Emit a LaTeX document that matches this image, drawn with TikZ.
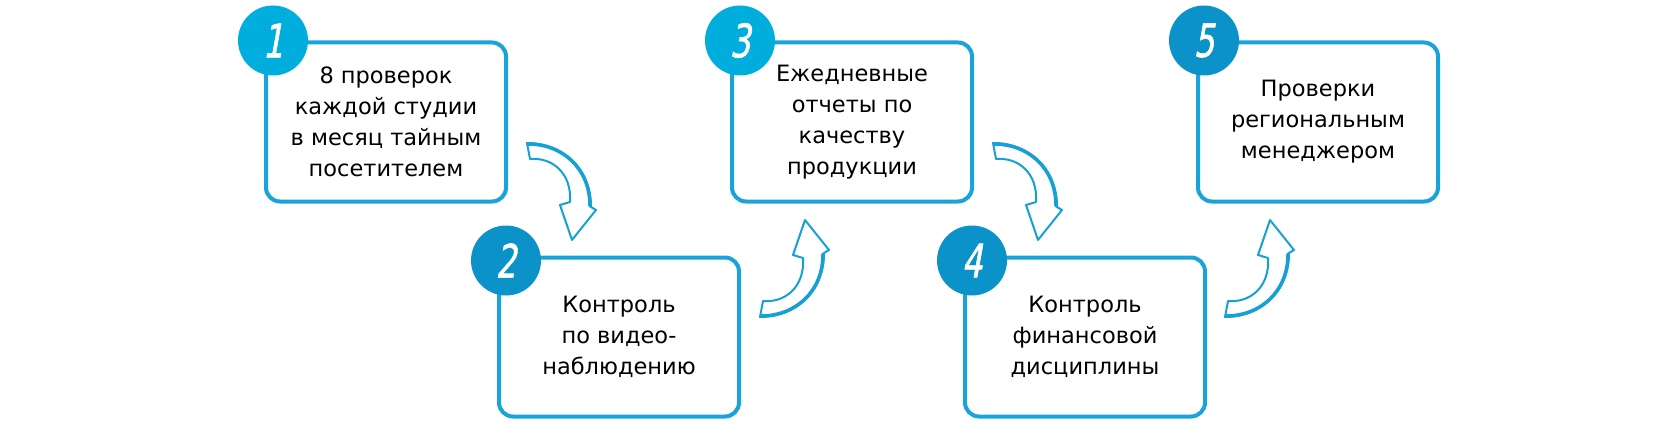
\documentclass[tikz,border=0pt]{standalone}
\usepackage{fontspec}
\setmainfont{DejaVu Sans}
\newfontfamily\numfont[FakeStretch=0.7,FakeSlant=0.18,FakeBold=1.2]{DejaVu Sans}
\usetikzlibrary{calc}

\definecolor{stepcyan}{RGB}{0,174,222}
\definecolor{stepblue}{RGB}{10,146,201}
\definecolor{frameblue}{RGB}{26,163,219}
\definecolor{arrowblue}{RGB}{22,160,214}

\tikzset{
  stepbox/.style={draw=frameblue, line width=4pt, rounded corners=14pt, fill=white,
    minimum width=240pt, minimum height=159pt, inner sep=0pt, align=center,
    font=\fontsize{22.5}{31}\selectfont},
  badge/.style={circle, minimum size=70pt, inner sep=0pt, text=white,
    font=\numfont\fontsize{46}{46}\selectfont},
  bendarrow/.pic={
    \fill[white] (0,0) .. controls (35,0) and (64,25) .. (64,64) -- (69,67) -- (45,97)
      -- (33,62) -- (43,59) .. controls (45,30) and (25,14) .. (3,16) -- cycle;
    \draw[arrowblue, line width=2pt, line join=round] (0,0) .. controls (35,0) and (64,25) .. (64,64)
      -- (69,67) -- (45,97) -- (33,62) -- (43,59) .. controls (45,30) and (25,14) .. (3,16) -- cycle;
    \draw[arrowblue, line width=3.5pt, line cap=round] (1,1) .. controls (35,1) and (63,25) .. (63,63);
  }
}

\begin{document}
\begin{tikzpicture}[x=1pt, y=-1pt]
\useasboundingbox (0,0) rectangle (1680,441);

% Boxes
\node[stepbox] (box1) at (386,122) {8 проверок\\каждой студии\\в месяц тайным\\посетителем};
\node[stepbox] (box2) at (619,337) {Контроль\\по видео-\\наблюдению};
\node[stepbox] (box3) at (852,122) {Ежедневные\\отчеты по\\качеству\\продукции};
\node[stepbox] (box4) at (1085,337) {Контроль\\финансовой\\дисциплины};
\node[stepbox] (box5) at (1318,122) {Проверки\\региональным\\менеджером};

% Number badges
\node[badge, fill=stepcyan] (num1) at ($(box1.north west)+(9,0)$) {1};
\node[badge, fill=stepblue] (num2) at ($(box2.north west)+(9,5)$) {2};
\node[badge, fill=stepcyan] (num3) at ($(box3.north west)+(10,0)$) {3};
\node[badge, fill=stepblue] (num4) at ($(box4.north west)+(9,5)$) {4};
\node[badge, fill=stepblue] (num5) at ($(box5.north west)+(8,0)$) {5};

% Bent arrows
\pic at ($(box1.east)+(19,21)$) {bendarrow};
\pic[yscale=-1] at ($(box2.east)+(19,-20)$) {bendarrow};
\pic at ($(box3.east)+(19,21)$) {bendarrow};
\pic[yscale=-1] at ($(box4.east)+(18,-20)$) {bendarrow};

\end{tikzpicture}
\end{document}
